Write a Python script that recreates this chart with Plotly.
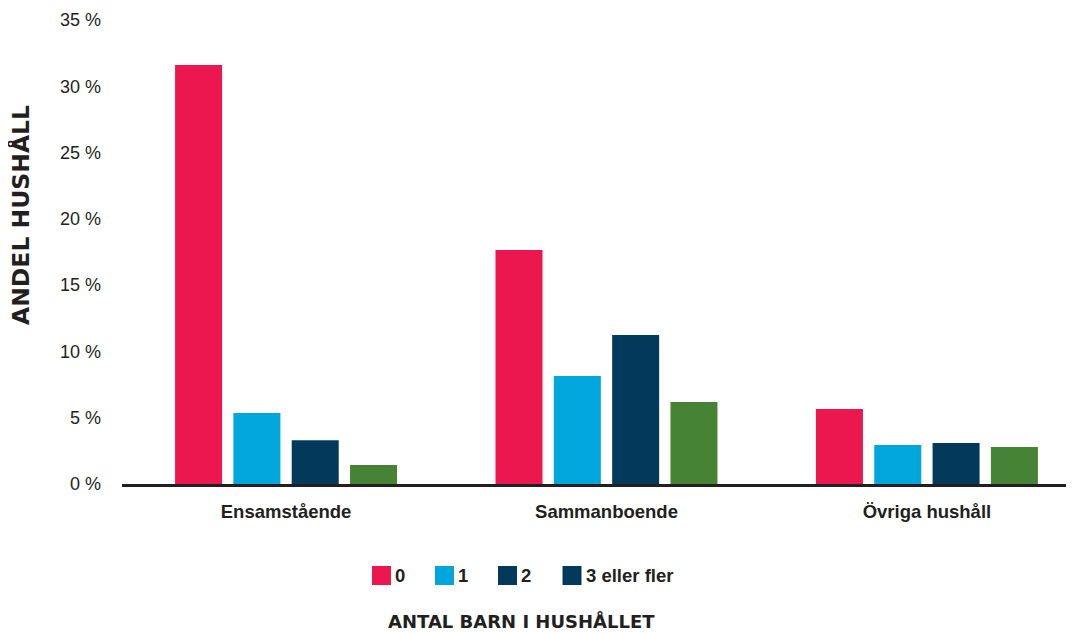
import plotly.graph_objects as go

categories = ["Ensamstående", "Sammanboende", "Övriga hushåll"]
series_names = ["0", "1", "2", "3 eller fler"]
series_values = {
    "0": [31.6, 17.65, 5.66],
    "1": [5.35, 8.15, 2.94],
    "2": [3.3, 11.24, 3.09],
    "3 eller fler": [1.43, 6.18, 2.79],
}
bar_colors = ["#ED174F", "#00A6DC", "#033A5C", "#468335"]
legend_colors = ["#ED174F", "#00A6DC", "#033A5C", "#033A5C"]
tick_vals = [0, 5, 10, 15, 20, 25, 30, 35]
tick_text = ["0 %", "5 %", "10 %", "15 %", "20 %", "25 %", "30 %", "35 %"]

FONT = "Liberation Sans, Arial, sans-serif"
TXT = "#231F20"

# page offset (body margin) in the screenshot
O = 8
W, H = 1074 - O, 633 - O
L, R, T, B = 122 - O, 0, 20 - O, 633 - 484
pw, ph = W - L - R, H - T - B


def px(x):
    return (x - O - L) / pw


def py(y):
    return (H - B - (y - O)) / ph


fig = go.Figure()
for name, col in zip(series_names, bar_colors):
    fig.add_trace(go.Bar(
        x=categories, y=series_values[name], name=name,
        marker=dict(color=col, line=dict(width=0)),
        showlegend=False,
    ))

shapes = []
annotations = []
sw_x = [372, 435, 498, 562.5]
for i, (name, col) in enumerate(zip(series_names, legend_colors)):
    x0 = sw_x[i]
    shapes.append(dict(type="rect", xref="paper", yref="paper",
                       x0=px(x0), x1=px(x0 + 19), y0=py(585), y1=py(566),
                       fillcolor=col, line=dict(width=0)))
    annotations.append(dict(xref="paper", yref="paper", x=px(x0 + 21), y=py(575.5),
                            xanchor="left", yanchor="middle", showarrow=False,
                            text="<b>%s</b>" % name,
                            font=dict(family=FONT, size=18.5, color=TXT)))

annotations.append(dict(xref="paper", yref="paper", x=px(21), y=py(215),
                        textangle=-90, xanchor="center", yanchor="middle",
                        showarrow=False, text="<b>ANDEL HUSHÅLL</b>",
                        font=dict(family="DejaVu Sans, sans-serif", size=23.5, color=TXT)))
annotations.append(dict(xref="paper", yref="paper", x=px(521), y=py(621),
                        xanchor="center", yanchor="middle",
                        showarrow=False, text="<b>ANTAL BARN I HUSHÅLLET</b>",
                        font=dict(family="DejaVu Sans, sans-serif", size=18, color=TXT)))

fig.update_layout(
    width=W, height=H,
    margin=dict(l=L, r=R, t=T, b=B, pad=0),
    paper_bgcolor="white", plot_bgcolor="white",
    barmode="group", bargap=0.272, bargroupgap=0.194,
    font=dict(family=FONT, size=18, color=TXT),
    shapes=shapes, annotations=annotations,
    xaxis=dict(
        type="category", range=[-0.512, 2.459],
        showline=True, linecolor="#231F20", linewidth=2.5,
        showgrid=False, zeroline=False, ticks="",
        tickfont=dict(family=FONT, size=18.5, color=TXT, weight="bold"),
        ticklabelstandoff=9,
    ),
    yaxis=dict(
        range=[0, 35], tickvals=tick_vals, ticktext=tick_text,
        showgrid=False, zeroline=False, showline=False, ticks="",
        tickfont=dict(family=FONT, size=18, color=TXT),
        ticklabelstandoff=20,
    ),
)

fig.write_html("out.html")
